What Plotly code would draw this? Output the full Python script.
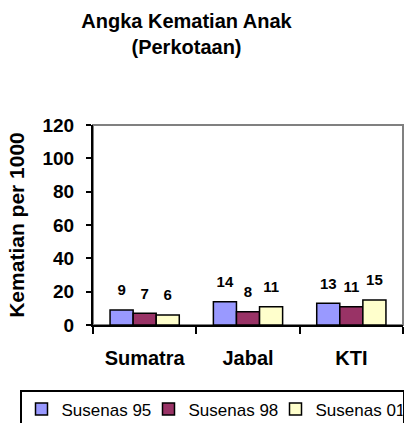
import plotly.graph_objects as go

categories = ["Sumatra", "Jabal", "KTI"]
series_names = ["Susenas 95", "Susenas 98", "Susenas 01"]
susenas_95 = [9, 14, 13]
susenas_98 = [7, 8, 11]
susenas_01 = [6, 11, 15]
colors = ["#9999FF", "#993366", "#FFFFCC"]

FONT = "Arial"
W, H = 412, 423
ML, MR, MT, MB = 93, 9, 125, 98
PW, PH = W - ML - MR, H - MT - MB

fig = go.Figure()
for i, (name, vals, col) in enumerate(zip(series_names, [susenas_95, susenas_98, susenas_01], colors)):
    fig.add_trace(go.Bar(
        x=categories, y=vals, name=name, offsetgroup=str(i),
        marker=dict(color=col, line=dict(color="black", width=1.5)),
    ))
for i, vals in enumerate([susenas_95, susenas_98, susenas_01]):
    fig.add_trace(go.Scatter(
        x=categories, y=vals, mode="markers+text", offsetgroup=str(i),
        marker=dict(size=16, color="rgba(0,0,0,0)"),
        text=["<b>%d</b>" % v for v in vals], textposition="top center",
        textfont=dict(family=FONT, size=15, color="black"),
        showlegend=False, hoverinfo="skip", cliponaxis=False,
    ))

fig.update_layout(
    width=W, height=H,
    margin=dict(l=ML, r=MR, t=MT, b=MB, autoexpand=False),
    paper_bgcolor="white", plot_bgcolor="white",
    barmode="group", bargap=0.33, bargroupgap=0,
    scattermode="group", scattergap=0.33,
    font=dict(family=FONT, color="black"),
    title=dict(text="<b>Angka Kematian Anak<br>(Perkotaan)</b>",
               x=186.5 / W, xanchor="center", xref="container",
               y=1 - 28 / H, yanchor="top", yref="container",
               font=dict(family=FONT, size=20, color="black")),
    xaxis=dict(showline=True, linecolor="black", linewidth=2,
               ticks="outside", ticklen=7, tickcolor="black", tickwidth=2,
               tickson="boundaries", ticklabelstandoff=14, automargin=False,
               tickfont=dict(family=FONT, size=20, color="black"),
               tickvals=categories, ticktext=["<b>%s</b>" % c for c in categories],
               showgrid=False),
    yaxis=dict(range=[0, 120], dtick=20, showline=True, linecolor="black", linewidth=2,
               ticks="outside", ticklen=5, tickcolor="black", tickwidth=2,
               ticklabelstandoff=8,
               tickfont=dict(family=FONT, size=19, color="black", weight="bold"),
               showgrid=False, zeroline=False, automargin=False,
               title=dict(text="<b>Kematian per 1000</b>", standoff=12,
                          font=dict(family=FONT, size=21, color="black"))),
    legend=dict(orientation="h", xref="paper", yref="paper",
                x=(20 - ML) / PW, xanchor="left",
                y=-(390 - (H - MB)) / PH, yanchor="top",
                bordercolor="black", borderwidth=1.5,
                font=dict(family=FONT, size=17, color="black"),
                itemwidth=30, tracegroupgap=0, entrywidth=82, entrywidthmode="pixels"),
    shapes=[dict(type="rect", xref="paper", yref="paper", x0=0, x1=1, y0=0, y1=1,
                 line=dict(color="#808080", width=2), layer="below")],
)

fig.write_html("out.html", config={"displayModeBar": False},
               post_script="document.body.style.margin='0';")
